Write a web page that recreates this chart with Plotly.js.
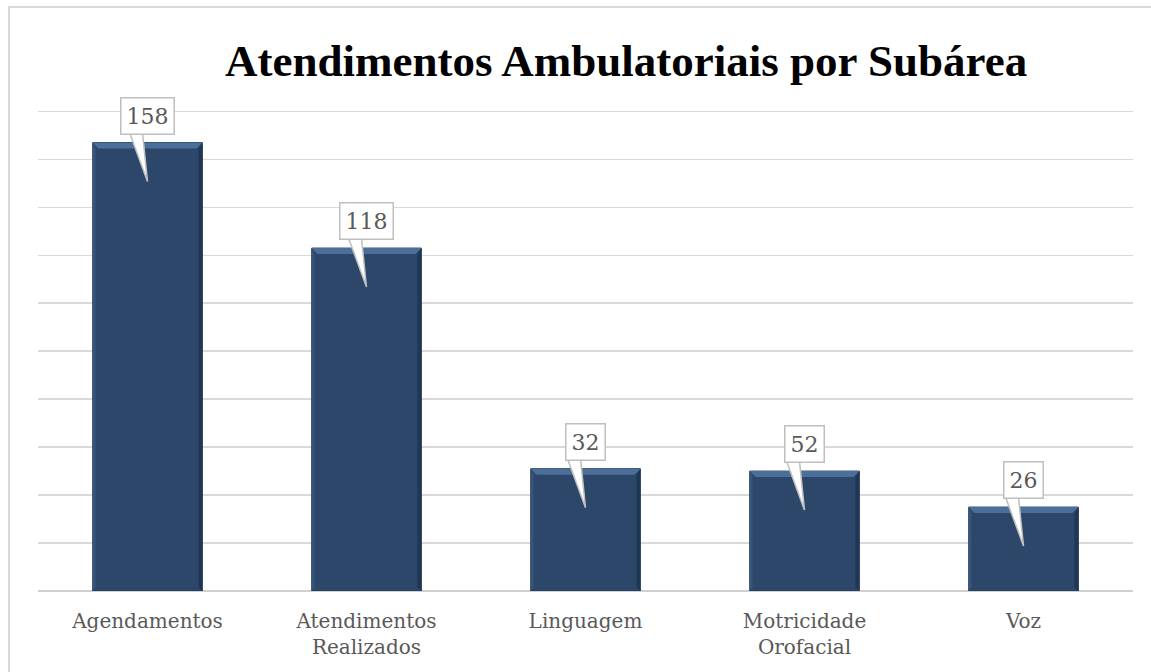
<!DOCTYPE html>
<html>
<head>
<meta charset="utf-8">
<script src="https://cdn.plot.ly/plotly-3.0.1.min.js"></script>
<style>
  html, body { margin: 0; padding: 0; background: #fff; }
  #wrap { position: relative; width: 1151px; height: 672px; overflow: hidden; }
  #frame { position: absolute; left: 8px; top: 6px; width: 1160px; height: 700px; border: 2px solid #d9d9d9; box-sizing: border-box; pointer-events: none; }
  #chart { position: absolute; left: 0; top: 0; width: 1151px; height: 672px; }
</style>
</head>
<body>
<div id="wrap">
  <div id="chart"></div>
  <div id="frame"></div>
</div>
<script>
// Categories (tick labels)
const categories = ["Agendamentos", "Atendimentos<br>Realizados", "Linguagem", "Motricidade<br>Orofacial", "Voz"];
// Bar heights as drawn in the picture (axis units, 10 gridline steps of 20)
const barHeights = [187, 143, 51, 50, 35];
// Data-label texts shown in the callouts
const labelTexts = ["158", "118", "32", "52", "26"];
const chartTitle = "Atendimentos Ambulatoriais por Subárea";

const serif = "DejaVu Serif, Liberation Serif, serif";
const halfBar = 55; // pixels, half of the drawn bar width (for bevel styling)

const trace = {
  type: "bar",
  x: categories,
  y: barHeights,
  marker: {
    color: "#2c4769",
    line: { color: "#223a58", width: 1 }
  },
  hoverinfo: "skip"
};

const annotations = categories.map((c, i) => ({
  x: c, y: barHeights[i], xref: "x", yref: "y",
  text: labelTexts[i],
  showarrow: false,
  yanchor: "bottom",
  yshift: 8,
  bgcolor: "#ffffff",
  bordercolor: "#bfbfbf",
  borderwidth: 1.5,
  borderpad: 5,
  font: { family: serif, size: 22, color: "#595959" }
}));

const shapes = [];
categories.forEach((c, i) => {
  const h = barHeights[i];
  // top bevel (lighter)
  shapes.push({
    type: "path", xref: "x", yref: "y",
    xsizemode: "pixel", ysizemode: "pixel",
    xanchor: c, yanchor: h,
    path: `M ${-halfBar},0 L ${halfBar},0 L ${halfBar - 6},-6 L ${-halfBar + 6},-6 Z`,
    fillcolor: "#4b6f99", line: { width: 0 }, layer: "above"
  });
  // right edge (darker)
  shapes.push({
    type: "path", xref: "x", yref: "y",
    xsizemode: "pixel", ysizemode: "scaled",
    xanchor: c,
    path: `M ${halfBar - 4},${h - 2.5} L ${halfBar},${h} L ${halfBar},0 L ${halfBar - 4},1.5 Z`,
    fillcolor: "#1f3654", line: { width: 0 }, layer: "above"
  });
  // left edge (slightly lighter)
  shapes.push({
    type: "path", xref: "x", yref: "y",
    xsizemode: "pixel", ysizemode: "scaled",
    xanchor: c,
    path: `M ${-halfBar},${h} L ${-halfBar + 3},${h - 2.5} L ${-halfBar + 3},1.5 L ${-halfBar},0 Z`,
    fillcolor: "#37557a", line: { width: 0 }, layer: "above"
  });
  // callout pointer
  shapes.push({
    type: "path", xref: "x", yref: "y",
    xsizemode: "pixel", ysizemode: "pixel",
    xanchor: c, yanchor: h,
    path: "M -18,10 L 0,-39 L -5,10 Z",
    fillcolor: "#ffffff",
    line: { color: "#bfbfbf", width: 1.5 },
    layer: "above"
  });
});

const layout = {
  width: 1151, height: 672,
  margin: { l: 38, r: 18, t: 109, b: 81 },
  paper_bgcolor: "rgba(0,0,0,0)",
  plot_bgcolor: "rgba(0,0,0,0)",
  bargap: 0.5,
  showlegend: false,
  title: {
    text: "<b>" + chartTitle + "</b>",
    font: { family: "Liberation Serif, serif", size: 45, color: "#000000" },
    x: 0.544, xanchor: "center",
    y: 0.91, yanchor: "middle"
  },
  xaxis: {
    tickfont: { family: serif, size: 20, color: "#595959" },
    showgrid: false,
    showline: false,
    ticks: "",
    ticklabelstandoff: 16
  },
  yaxis: {
    range: [0, 201],
    dtick: 20,
    showticklabels: false,
    showgrid: true,
    gridcolor: "#d9d9d9",
    gridwidth: 1.5,
    zeroline: true,
    zerolinecolor: "#d0d0d0",
    zerolinewidth: 2,
    ticks: ""
  },
  annotations: annotations,
  shapes: shapes
};

Plotly.newPlot("chart", [trace], layout, { displayModeBar: false, staticPlot: true });
</script>
</body>
</html>
